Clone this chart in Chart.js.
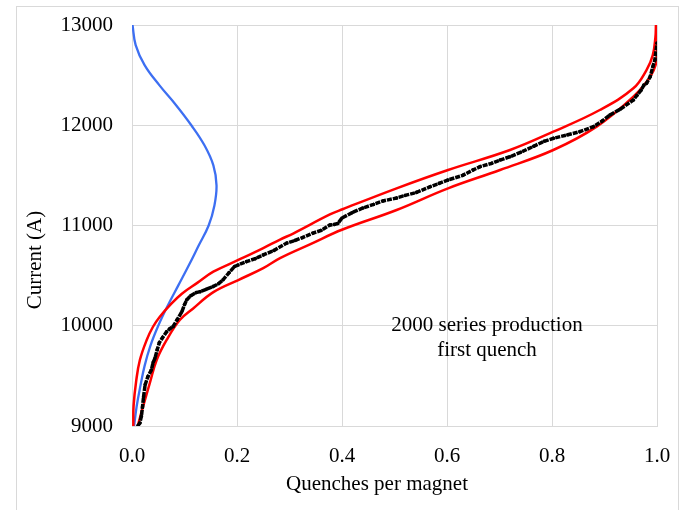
<!DOCTYPE html>
<html>
<head>
<meta charset="utf-8">
<script src="https://cdn.jsdelivr.net/npm/chart.js@4/dist/chart.umd.min.js"></script>
<style>
  html, body { margin: 0; padding: 0; background: #fff; }
  #wrap { width: 682px; height: 510px; }
</style>
</head>
<body>
<div id="wrap"><canvas id="quenchChart" width="682" height="510"></canvas></div>
<script>
// measured first quench currents (A) vs cumulative fraction of magnets
const quenchFrac = [0.011, 0.015, 0.018, 0.020, 0.022, 0.025, 0.030, 0.037, 0.040, 0.044, 0.048, 0.052, 0.058, 0.066, 0.072, 0.078, 0.086, 0.095, 0.100, 0.104, 0.112, 0.122, 0.130, 0.142, 0.154, 0.165, 0.173, 0.185, 0.195, 0.202, 0.218, 0.235, 0.250, 0.270, 0.295, 0.310, 0.325, 0.345, 0.360, 0.377, 0.385, 0.392, 0.400, 0.420, 0.440, 0.460, 0.478, 0.504, 0.520, 0.542, 0.568, 0.585, 0.602, 0.630, 0.650, 0.663, 0.685, 0.701, 0.720, 0.740, 0.765, 0.785, 0.803, 0.830, 0.853, 0.879, 0.895, 0.910, 0.930, 0.955, 0.962, 0.970, 0.975, 0.980, 0.987, 0.992, 0.996, 1.000];
const quenchCurrent = [9000, 9030, 9100, 9190, 9290, 9410, 9490, 9560, 9630, 9680, 9760, 9830, 9880, 9940, 9970, 9990, 10060, 10140, 10210, 10257, 10300, 10330, 10340, 10365, 10390, 10420, 10456, 10530, 10590, 10606, 10640, 10670, 10706, 10750, 10825, 10850, 10880, 10925, 10950, 11005, 11010, 11020, 11075, 11130, 11175, 11210, 11245, 11274, 11300, 11330, 11387, 11420, 11454, 11500, 11555, 11587, 11620, 11653, 11686, 11730, 11790, 11840, 11870, 11905, 11936, 11986, 12040, 12102, 12160, 12252, 12300, 12352, 12400, 12418, 12484, 12584, 12651, 12820];

// upper (left) confidence band
const upperFrac = [0.0025, 0.003, 0.008, 0.015, 0.028, 0.040, 0.053, 0.075, 0.095, 0.125, 0.155, 0.2025, 0.250, 0.282, 0.307, 0.377, 0.401, 0.504, 0.602, 0.720, 0.8025, 0.891, 0.955, 0.980, 0.992, 0.997, 0.998];
const upperCurrent = [9000, 9200, 9450, 9658, 9858, 9990, 10090, 10220, 10320, 10430, 10539, 10656, 10775, 10860, 10920, 11110, 11162, 11371, 11554, 11753, 11936, 12152, 12369, 12551, 12700, 12880, 13000];

// lower (right) confidence band
const lowerFrac = [0.011, 0.021, 0.034, 0.047, 0.066, 0.091, 0.116, 0.155, 0.2025, 0.250, 0.282, 0.340, 0.401, 0.504, 0.602, 0.701, 0.8025, 0.885, 0.955, 0.987, 0.9994, 1.000];
const lowerCurrent = [9000, 9193, 9429, 9658, 9858, 10057, 10170, 10335, 10456, 10575, 10675, 10815, 10960, 11155, 11371, 11554, 11753, 11986, 12285, 12484, 12651, 13000];

// distribution shape (blue)
const distCurrent = [9000, 9200, 9400, 9600, 9800, 10000, 10200, 10400, 10600, 10800, 11000, 11200, 11400, 11600, 11800, 12000, 12200, 12400, 12600, 12800, 13000];
const distFrac = [0.004, 0.009, 0.016, 0.024, 0.035, 0.050, 0.068, 0.088, 0.108, 0.127, 0.146, 0.157, 0.161, 0.155, 0.138, 0.113, 0.084, 0.052, 0.024, 0.007, 0.001];

const xTicks = [0, 0.2, 0.4, 0.6, 0.8, 1.0];
const yTicks = [9000, 10000, 11000, 12000, 13000];
const noteLines = ["2000 series production", "first quench"];

const FONT = "'Liberation Serif', 'Times New Roman', serif";
const toPts = (xs, ys) => xs.map((x, i) => ({ x: x, y: ys[i] }));

// frame, axis titles and the note
const extras = {
    id: 'extras',
    beforeDraw(chart) {
        const c = chart.ctx;
        c.save();
        c.fillStyle = '#fff';
        c.fillRect(0, 0, chart.width, chart.height);
        c.strokeStyle = '#d9d9d9';
        c.lineWidth = 1;
        c.strokeRect(16.5, 6.5, 662, 520);
        c.restore();
    },
    afterDraw(chart) {
        const c = chart.ctx;
        c.save();
        c.fillStyle = '#000';
        c.font = `21px ${FONT}`;
        c.textAlign = 'center';
        c.textBaseline = 'middle';
        c.fillText("Quenches per magnet", 377, 484);
        c.fillText(noteLines[0], 487, 325);
        c.fillText(noteLines[1], 487, 350);
        c.translate(35, 260);
        c.rotate(-Math.PI / 2);
        c.fillText("Current (A)", 0, 0);
        c.restore();
    }
};

new Chart(document.getElementById('quenchChart'), {
    type: 'scatter',
    data: {
        datasets: [
            {
                label: 'data',
                data: toPts(quenchFrac, quenchCurrent),
                showLine: true,
                borderColor: '#000',
                borderWidth: 3.5,
                borderDash: [5, 1],
                backgroundColor: '#000',
                pointRadius: 1.8,
                pointBorderWidth: 0,
                order: 0
            },
            {
                label: 'upper',
                data: toPts(upperFrac, upperCurrent),
                showLine: true,
                borderColor: '#ff0000',
                borderWidth: 2.5,
                pointRadius: 0,
                tension: 0.4,
                order: 1
            },
            {
                label: 'lower',
                data: toPts(lowerFrac, lowerCurrent),
                showLine: true,
                borderColor: '#ff0000',
                borderWidth: 2.5,
                pointRadius: 0,
                tension: 0.4,
                order: 1
            },
            {
                label: 'distribution',
                data: toPts(distFrac, distCurrent),
                showLine: true,
                borderColor: '#3d6ff2',
                borderWidth: 2.3,
                pointRadius: 0,
                tension: 0.4,
                order: 2
            }
        ]
    },
    options: {
        responsive: false,
        animation: false,
        layout: { autoPadding: false, padding: { left: 0, right: 25, top: 25, bottom: 0 } },
        plugins: { legend: { display: false }, tooltip: { enabled: false } },
        scales: {
            x: {
                type: 'linear',
                min: 0, max: 1,
                afterFit: (s) => { s.height = 84; s.paddingLeft = 0; s.paddingRight = 0; },
                afterBuildTicks: (s) => { s.ticks = xTicks.map(v => ({ value: v })); },
                ticks: {
                    color: '#000',
                    padding: 18,
                    font: { family: FONT, size: 21 },
                    callback: (v) => Number(v).toFixed(1)
                },
                grid: { color: '#d9d9d9', drawTicks: false },
                border: { color: '#d9d9d9' }
            },
            y: {
                type: 'linear',
                min: 9000, max: 13000,
                afterFit: (s) => { s.width = 132; s.paddingTop = 0; s.paddingBottom = 0; },
                afterBuildTicks: (s) => { s.ticks = yTicks.map(v => ({ value: v })); },
                ticks: {
                    color: '#000',
                    padding: 19,
                    font: { family: FONT, size: 21 },
                    callback: (v) => String(v)
                },
                grid: { color: '#d9d9d9', drawTicks: false },
                border: { color: '#d9d9d9' }
            }
        }
    },
    plugins: [extras]
});
</script>
</body>
</html>
